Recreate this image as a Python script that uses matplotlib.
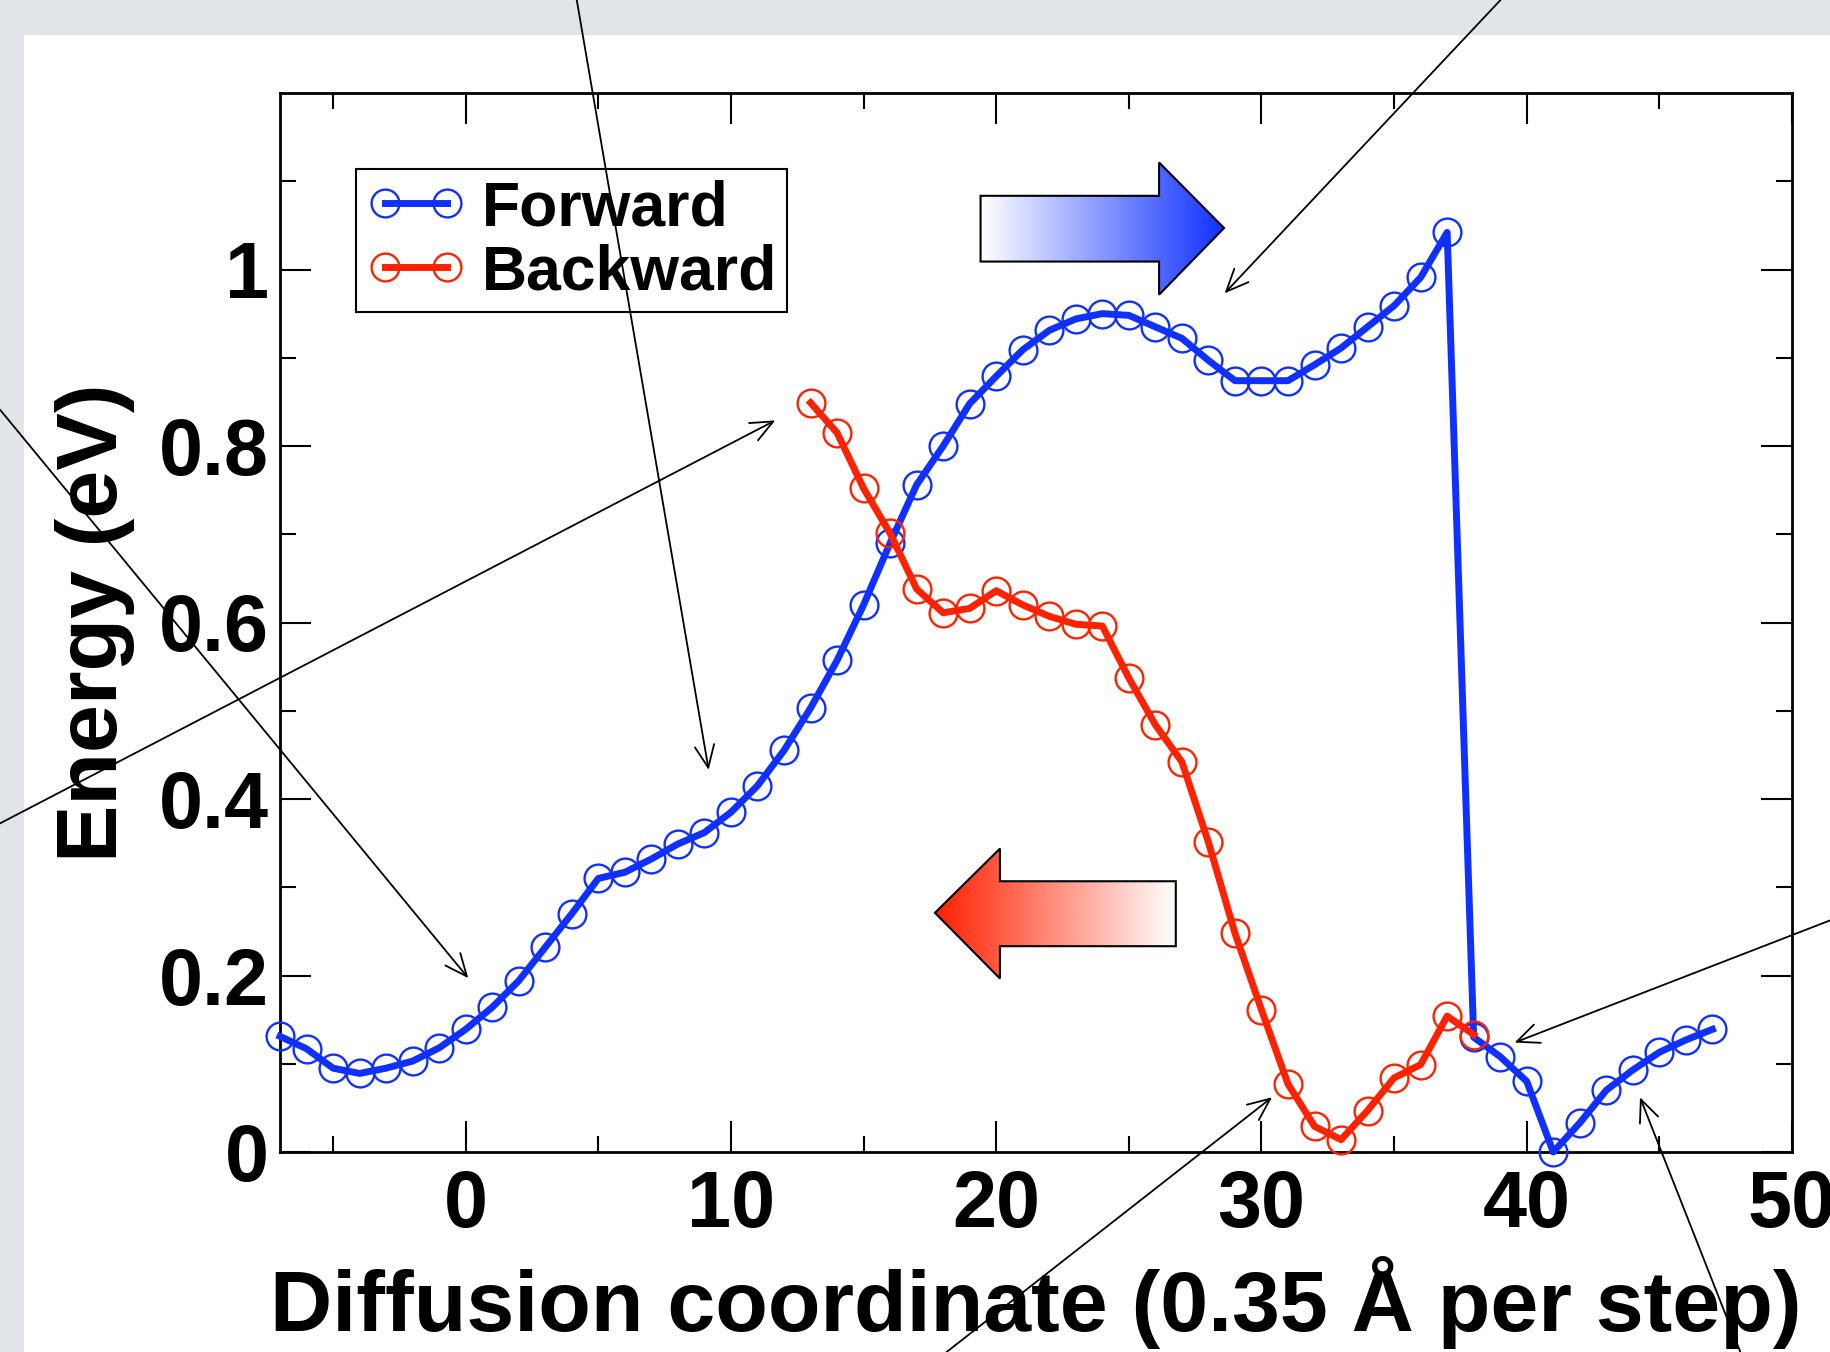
import numpy as np
import matplotlib.pyplot as plt
from matplotlib.patches import Polygon, Rectangle
from matplotlib.colors import LinearSegmentedColormap

plt.rcParams['font.family'] = ['Liberation Sans', 'DejaVu Sans']
plt.rcParams['font.weight'] = 'bold'
plt.rcParams['axes.labelweight'] = 'bold'

# datos (energia en eV por paso)
fwd_x = list(range(-7, 48))
fwd_y = [0.131, 0.117, 0.095, 0.089, 0.095, 0.103, 0.118, 0.139, 0.164, 0.194,
         0.232, 0.270, 0.310, 0.317, 0.332, 0.349, 0.362, 0.385, 0.415, 0.455,
         0.503, 0.557, 0.620, 0.690, 0.756, 0.800, 0.848, 0.879, 0.909, 0.931,
         0.944, 0.950, 0.948, 0.935, 0.922, 0.897, 0.874, 0.874, 0.874, 0.892,
         0.911, 0.935, 0.959, 0.991, 1.042, 0.130, 0.108, 0.080, 0.000, 0.033,
         0.070, 0.093, 0.113, 0.127, 0.139]
bwd_x = list(range(13, 39))
bwd_y = [0.849, 0.815, 0.752, 0.701, 0.638, 0.611, 0.616, 0.636, 0.620, 0.607,
         0.598, 0.596, 0.537, 0.484, 0.442, 0.351, 0.248, 0.161, 0.077, 0.029,
         0.014, 0.047, 0.084, 0.099, 0.154, 0.133]

x_ticks = [0, 10, 20, 30, 40, 50]
y_ticks = [0, 0.2, 0.4, 0.6, 0.8, 1.0]
y_ticklabels = ['0', '0.2', '0.4', '0.6', '0.8', '1']

blue = '#1030ff'
red = '#ff2200'

fig = plt.figure(figsize=(18.31, 13.52), dpi=100, facecolor='#e1e5e9')
# panel blanco de la diapositiva
fig.add_artist(Rectangle((24 / 1831, 0), 1, 1 - 35 / 1352, transform=fig.transFigure,
                         facecolor='white', edgecolor='none', zorder=0))

ax = fig.add_axes([280 / 1831, 200 / 1352, 1512 / 1831, 1059 / 1352])

ax.plot(fwd_x, fwd_y, '-o', color=blue, lw=5, ms=20, mfc='none', mec=blue, mew=1.7,
        label='Forward', zorder=3, clip_on=False)
ax.plot(bwd_x, bwd_y, '-o', color=red, lw=5, ms=20, mfc='none', mec=red, mew=1.7,
        label='Backward', zorder=3.1, clip_on=False)

# flechas grandes con degradado
grad = np.linspace(0, 1, 256).reshape(1, -1)
blue_cmap = LinearSegmentedColormap.from_list('b', ['#ffffff', '#1030ff'])
red_cmap = LinearSegmentedColormap.from_list('r', ['#ff2000', '#ffffff'])

blue_arrow = [(19.41, 1.009), (26.14, 1.009), (26.14, 0.9714), (28.59, 1.047),
              (26.14, 1.1213), (26.14, 1.0835), (19.41, 1.0835)]
red_arrow = [(26.77, 0.2332), (20.14, 0.2332), (20.14, 0.1966), (17.69, 0.271),
             (20.14, 0.3438), (20.14, 0.3068), (26.77, 0.3068)]

for pts, cm in [(blue_arrow, blue_cmap), (red_arrow, red_cmap)]:
    xs = [p[0] for p in pts]
    ys = [p[1] for p in pts]
    poly = Polygon(pts, closed=True, facecolor='none', edgecolor='black', lw=1.5, zorder=4)
    ax.add_patch(poly)
    im = ax.imshow(grad, extent=[min(xs), max(xs), min(ys), max(ys)], cmap=cm,
                   aspect='auto', zorder=3.5, interpolation='bilinear')
    im.set_clip_path(poly)

ax.set_xlim(-7, 50)
ax.set_ylim(0, 1.2)

ax.set_xticks(x_ticks)
ax.set_xticks(range(-5, 50, 10), minor=True)
ax.set_yticks(y_ticks)
ax.set_yticklabels(y_ticklabels)
ax.set_yticks(np.arange(0.1, 1.15, 0.2), minor=True)
ax.tick_params(which='both', direction='in', top=True, right=True, width=1.5)
ax.tick_params(which='major', length=22, labelsize=57)
ax.tick_params(which='minor', length=11.5)
ax.tick_params(axis='x', pad=12)
ax.tick_params(axis='y', pad=8)
for s in ax.spines.values():
    s.set_linewidth(2)

ax.set_xlabel('Diffusion coordinate (0.35 Å per step)', fontsize=62, va='baseline')
ax.xaxis.set_label_coords(0.5, -0.169)
ax.set_ylabel('Energy (eV)', fontsize=62, va='baseline')
ax.yaxis.set_label_coords(-0.1078, 0.5)

leg = ax.legend(loc='upper left', bbox_to_anchor=(0.0503, 0.928), borderaxespad=0,
                fontsize=45, numpoints=2, handlelength=1.6, handletextpad=0.25,
                borderpad=0.16, labelspacing=0.08, fancybox=False,
                edgecolor='black', framealpha=1)
leg.get_frame().set_linewidth(1.5)

# flechas finas de anotacion (punta en datos, cola en el borde de la figura)
notes = [((0.10, 0.197), (0.0, 0.697)),
         ((11.67, 0.829), (0.0, 0.391)),
         ((9.16, 0.433), (0.315, 1.0)),
         ((28.61, 0.973), (0.8195, 1.0)),
         ((39.54, 0.124), (1.0, 0.3195)),
         ((30.4, 0.062), (0.517, 0.0)),
         ((44.27, 0.062), (0.9505, 0.0))]
for head, tail in notes:
    ax.annotate('', xy=head, xycoords='data', xytext=tail, textcoords='figure fraction',
                arrowprops=dict(arrowstyle='->,head_length=0.8,head_width=0.35', lw=1.3,
                                color='black', shrinkA=0, shrinkB=0, mutation_scale=20),
                annotation_clip=False, zorder=10)

fig.savefig('out.png', dpi=100, facecolor=fig.get_facecolor())
